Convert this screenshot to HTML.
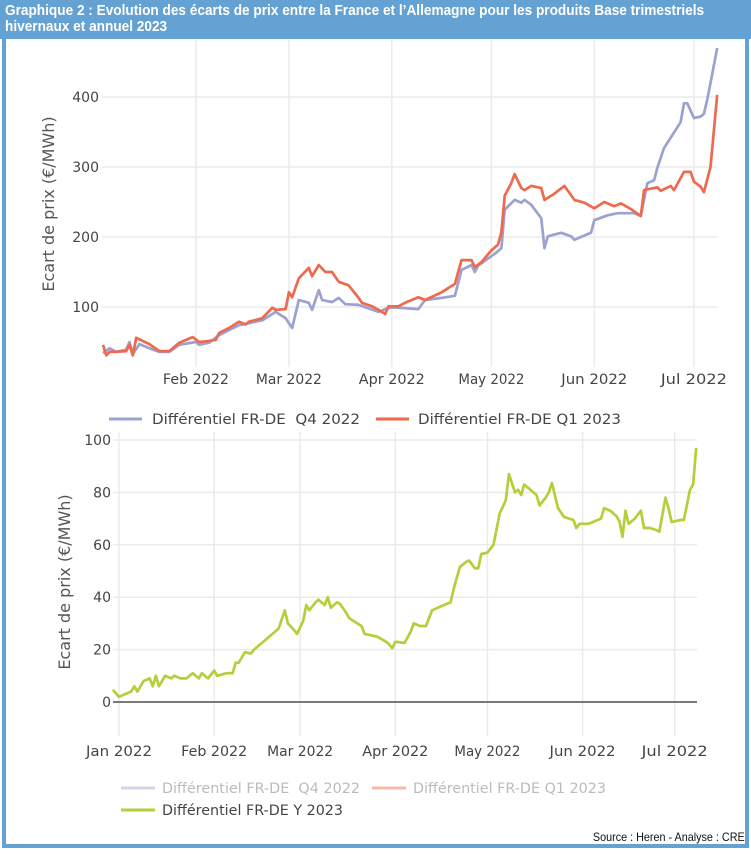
<!DOCTYPE html>
<html><head><meta charset="utf-8"><style>
body{margin:0;background:#fff;}
#frame{position:relative;width:751px;height:854px;overflow:hidden;background:#fff;font-family:"Liberation Sans",sans-serif;}
#hdr{position:absolute;left:0;top:0;width:751px;height:39px;background:#65a2d4;}
#hdr div{position:absolute;left:5px;top:3px;color:#fff;font-weight:bold;font-size:14.5px;line-height:16px;white-space:nowrap;transform:scaleX(0.94);transform-origin:left top;}
.bl{position:absolute;background:#65a2d4;}
#src{position:absolute;right:6px;top:830px;font-size:12px;color:#111;transform:scaleX(0.9);transform-origin:right top;white-space:nowrap;}
</style></head><body>
<div id="frame">
<div id="hdr"><div>Graphique 2 : Evolution des écarts de prix entre la France et l’Allemagne pour les produits Base trimestriels<br>hivernaux et annuel 2023</div></div>
<div class="bl" style="left:2px;top:38px;width:4px;height:810px"></div>
<div class="bl" style="left:745px;top:38px;width:4px;height:810px"></div>
<div class="bl" style="left:2px;top:844px;width:747px;height:4px"></div>
<svg id="svg" width="751" height="854" style="position:absolute;left:0;top:0"></svg>
<div id="src">Source : Heren - Analyse : CRE</div>
</div>
<script>
const monthLabels=["Jan 2022","Feb 2022","Mar 2022","Apr 2022","May 2022","Jun 2022","Jul 2022"];
const monthDays=[0,31,59,90,120,151,181];
const topTicks=[100,200,300,400];
const botTicks=[0,20,40,60,80,100];
const q4Days=[3,5,7,10,11,12,14,17,20,23,26,31,32,35,38,41,44,51,55,58,60,62,65,66,68,69,72,74,76,80,86,89,92,98,100,105,109,111,114,115,116,121,123,124,127,129,130,132,135,136,137,141,144,145,150,151,155,158,163,165,167,169,170,172,177,178,179,181,183,184,185,186,188];
const q4Vals=[34,41,36,39,50,33,47,41,36,36,46,50,46,49,60,67,74,81,93,84,70,110,106,96,124,110,107,113,104,103,93,99,99,97,110,113,116,153,160,150,159,176,184,239,253,249,253,246,227,184,201,206,201,196,206,224,231,234,234,230,277,281,299,327,364,391,391,370,372,376,396,420,470];
const q1Days=[3,4,5,7,10,11,12,13,17,20,23,26,30,32,34,37,38,41,44,46,47,51,54,55,58,59,60,62,65,66,68,70,72,74,77,80,81,84,86,88,89,92,94,98,100,105,109,111,114,115,117,120,122,123,124,126,127,129,130,132,135,136,139,142,145,148,151,154,157,159,162,165,166,170,171,174,175,178,180,181,183,184,186,188];
const q1Vals=[46,31,36,36,37,46,31,56,47,37,37,49,57,50,51,53,63,70,79,75,79,84,99,96,97,121,114,141,156,144,160,150,150,136,131,113,106,101,96,90,101,101,106,114,110,121,133,167,167,157,164,181,189,207,259,277,290,270,267,273,270,253,262,273,253,249,241,250,244,248,240,230,267,271,266,273,267,293,293,279,272,264,300,403];
const yDays=[-2,0,2,4,5,6,7,8,10,11,12,13,15,17,18,20,22,24,26,27,29,31,32,35,37,38,39,41,43,44,46,48,49,52,54,55,57,58,60,61,62,64,65,67,68,69,71,72,74,75,79,80,82,84,87,88,89,90,93,95,96,98,100,102,105,108,109,111,113,114,116,117,118,120,122,124,126,127,129,130,131,132,134,136,137,139,140,141,143,145,148,149,150,153,157,158,160,162,163,164,165,166,168,170,171,173,175,176,178,179,180,183,184,186,187,188];
const yVals=[4.6,2,3,4,6,4,6,8,9,6,10,6,10,9,10,9,9,11,9,11,9,12,10,11,11,15,15,19,18.5,20,22,24,25,28,35,30,27.5,26,31,37,35,38,39,37,40,36,38,37.5,34,32,29,26,25.5,25,23,22,20.5,23,22.5,26.7,30,29,29,35,36.6,38,43,51.5,53.4,54,51,51,56.5,57,60,72,77,87,80,81,79,83,81,79,75,78,80,83.6,74,70.6,69.5,66.4,68,68,70,74,73,71,69,63,73,68,70,73,66.4,66.4,65.6,65,78,74,68.7,69.5,69.5,81,83,97];

const svg=document.getElementById('svg');
const NS='http://www.w3.org/2000/svg';
function mk(tag,attrs,name,parent){const e=document.createElementNS(NS,tag);for(const k in attrs)e.setAttribute(k,attrs[k]);


(parent||svg).appendChild(e);return e;}
function txt(s,attrs,name){const t=mk('text',attrs,name);t.textContent=s;return t;}

const tx=d=>93+d*3.32, ty=v=>377-v*0.7;
const bx=d=>119+d*3.07, by=v=>702-v*2.62;

for(let i=1;i<monthDays.length;i++){mk('line',{x1:tx(monthDays[i]),x2:tx(monthDays[i]),y1:40,y2:367,stroke:'#ebebeb','stroke-width':1.5},'top-x-grid');
txt(monthLabels[i],{x:tx(monthDays[i]),y:384,'text-anchor':'middle','font-size':14,fill:'#444','font-family':'DejaVu Sans, sans-serif','textLength':66,'lengthAdjust':'spacingAndGlyphs'},'top-x-tick-label');}
topTicks.forEach(v=>{mk('line',{x1:102,x2:717,y1:ty(v),y2:ty(v),stroke:'#ebebeb','stroke-width':1.5},'top-y-grid');
txt(String(v),{x:99,y:ty(v)+5,'text-anchor':'end','font-size':14,fill:'#444','font-family':'DejaVu Sans, sans-serif'},'top-y-tick-label');});
txt('Ecart de prix (€/MWh)',{transform:'translate(54,204) rotate(-90)','text-anchor':'middle','font-size':16,fill:'#555','font-family':'DejaVu Sans, sans-serif'},'top-y-axis-title');

function line(days,vals,fx,fy,color,name){const p=days.map((d,i)=>fx(d).toFixed(1)+','+fy(vals[i]).toFixed(1)).join(' ');
mk('polyline',{points:p,fill:'none',stroke:color,'stroke-width':2.7,'stroke-linejoin':'round'},name);}
line(q4Days,q4Vals,tx,ty,'#9ca1cf','line-q4-2022');
line(q1Days,q1Vals,tx,ty,'#ee6a4f','line-q1-2023');

mk('line',{x1:109,x2:142,y1:419,y2:419,stroke:'#9ca1cf','stroke-width':3},'legend-swatch-q4');
txt('Différentiel FR-DE\u00a0\u00a0Q4 2022',{x:152,y:424,'font-size':14,fill:'#444','font-family':'DejaVu Sans, sans-serif','textLength':208,'lengthAdjust':'spacingAndGlyphs'},'legend-entry-q4');
mk('line',{x1:376,x2:409,y1:419,y2:419,stroke:'#ee6a4f','stroke-width':3},'legend-swatch-q1');
txt('Différentiel FR-DE Q1 2023',{x:418,y:424,'font-size':14,fill:'#444','font-family':'DejaVu Sans, sans-serif','textLength':203,'lengthAdjust':'spacingAndGlyphs'},'legend-entry-q1');

for(let i=0;i<monthDays.length;i++){mk('line',{x1:bx(monthDays[i]),x2:bx(monthDays[i]),y1:432,y2:736,stroke:'#ebebeb','stroke-width':1.5},'bottom-x-grid');
txt(monthLabels[i],{x:bx(monthDays[i]),y:756,'text-anchor':'middle','font-size':14,fill:'#444','font-family':'DejaVu Sans, sans-serif','textLength':66,'lengthAdjust':'spacingAndGlyphs'},'bottom-x-tick-label');}
botTicks.forEach(v=>{if(v>0)mk('line',{x1:113,x2:697,y1:by(v),y2:by(v),stroke:'#ebebeb','stroke-width':1.5},'bottom-y-grid');
txt(String(v),{x:111,y:by(v)+5,'text-anchor':'end','font-size':14,fill:'#444','font-family':'DejaVu Sans, sans-serif'},'bottom-y-tick-label');});
mk('line',{x1:113,x2:697,y1:by(0),y2:by(0),stroke:'#666','stroke-width':1.8},'zero-line');
txt('Ecart de prix (€/MWh)',{transform:'translate(70,582) rotate(-90)','text-anchor':'middle','font-size':16,fill:'#555','font-family':'DejaVu Sans, sans-serif'},'bottom-y-axis-title');
line(yDays,yVals,bx,by,'#b3cf3a','line-y-2023');

mk('line',{x1:121,x2:155,y1:788,y2:788,stroke:'#d2d4ea','stroke-width':3},'legend-swatch-q4-hidden');
txt('Différentiel FR-DE\u00a0\u00a0Q4 2022',{x:162,y:793,'font-size':14,fill:'#bbb','font-family':'DejaVu Sans, sans-serif','textLength':198,'lengthAdjust':'spacingAndGlyphs'},'legend-entry-q4-hidden');
mk('line',{x1:372,x2:406,y1:788,y2:788,stroke:'#f6b8aa','stroke-width':3},'legend-swatch-q1-hidden');
txt('Différentiel FR-DE Q1 2023',{x:413,y:793,'font-size':14,fill:'#bbb','font-family':'DejaVu Sans, sans-serif','textLength':193,'lengthAdjust':'spacingAndGlyphs'},'legend-entry-q1-hidden');
mk('line',{x1:121,x2:155,y1:810,y2:810,stroke:'#b3cf3a','stroke-width':3},'legend-swatch-y');
txt('Différentiel FR-DE Y 2023',{x:162,y:815,'font-size':14,fill:'#444','font-family':'DejaVu Sans, sans-serif','textLength':181,'lengthAdjust':'spacingAndGlyphs'},'legend-entry-y');
</script>
</body></html>
